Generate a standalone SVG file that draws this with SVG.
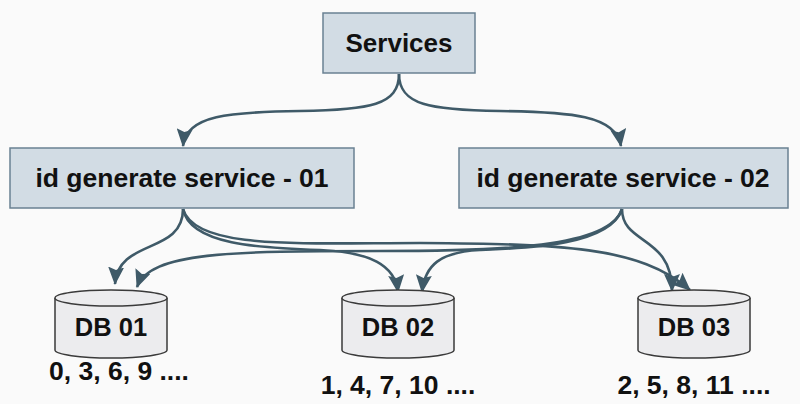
<svg xmlns="http://www.w3.org/2000/svg" width="800" height="404" viewBox="0 0 800 404">
<defs>
<style>
.box{fill:#d2dce4;stroke:#6a8192;stroke-width:1.5}
.db{fill:#ececee;stroke:#3a3a3a;stroke-width:1.5}
.t{font-family:"Liberation Sans",Arial,sans-serif;font-weight:bold;fill:#111;text-anchor:middle}
.c{fill:none;stroke:#3f5a68;stroke-width:2.6}
</style>
<marker id="ah" markerWidth="18" markerHeight="16" refX="17" refY="8" orient="auto" markerUnits="userSpaceOnUse">
<path d="M0,0 L18,8 L0,16 L3,8 Z" fill="#3f5a68"/>
</marker>
</defs>
<rect width="800" height="404" fill="#fafafa"/>
<g id="connectors">
<path class="c" marker-end="url(#ah)" d="M399,74 C399,105 370,110 300,111 C230,112 186,115 183,146"/>
<path class="c" marker-end="url(#ah)" d="M399,74 C399,105 430,110 500,111 C570,112 616,115 621,146"/>
<path class="c" marker-end="url(#ah)" d="M183,209 C183,255 118,238 115,284"/>
<path class="c" marker-end="url(#ah)" d="M183,209 C190,245 260,248 320,250 C370,252 395,265 398,292"/>
<path class="c" marker-end="url(#ah)" d="M183,209 C195,250 300,243 420,243 C560,244 640,246 690,290"/>
<path class="c" marker-end="url(#ah)" d="M622,209 C610,248 500,251 380,251 C230,251 150,252 137,287"/>
<path class="c" marker-end="url(#ah)" d="M622,209 C610,245 530,248 480,250 C440,252 425,265 422,292"/>
<path class="c" marker-end="url(#ah)" d="M622,209 C622,245 672,235 672,291"/>
</g>
<g id="services">
<rect class="box" x="323" y="13" width="152" height="60"/>
<text class="t" x="399" y="52" font-size="26">Services</text>
</g>
<g id="idgen01">
<rect class="box" x="10" y="148" width="344" height="60"/>
<text class="t" x="182" y="187" font-size="26.5">id generate service - 01</text>
</g>
<g id="idgen02">
<rect class="box" x="459" y="148" width="329" height="60"/>
<text class="t" x="623" y="187" font-size="26.5">id generate service - 02</text>
</g>
<g id="db01">
<path class="db" d="M55,298 L55,350 A56,8 0 0 0 167,350 L167,298"/>
<ellipse class="db" cx="111" cy="298" rx="56" ry="8"/>
<text class="t" x="111" y="336" font-size="25.5">DB 01</text>
<text class="t" x="119" y="380" font-size="26.5">0, 3, 6, 9 ....</text>
</g>
<g id="db02">
<path class="db" d="M342,298 L342,350 A56,8 0 0 0 454,350 L454,298"/>
<ellipse class="db" cx="398" cy="298" rx="56" ry="8"/>
<text class="t" x="398" y="336" font-size="25.5">DB 02</text>
<text class="t" x="398" y="394" font-size="26.5">1, 4, 7, 10 ....</text>
</g>
<g id="db03">
<path class="db" d="M638,298 L638,350 A56,8 0 0 0 750,350 L750,298"/>
<ellipse class="db" cx="694" cy="298" rx="56" ry="8"/>
<text class="t" x="694" y="336" font-size="25.5">DB 03</text>
<text class="t" x="694" y="394" font-size="26.5">2, 5, 8, 11 ....</text>
</g>
</svg>
